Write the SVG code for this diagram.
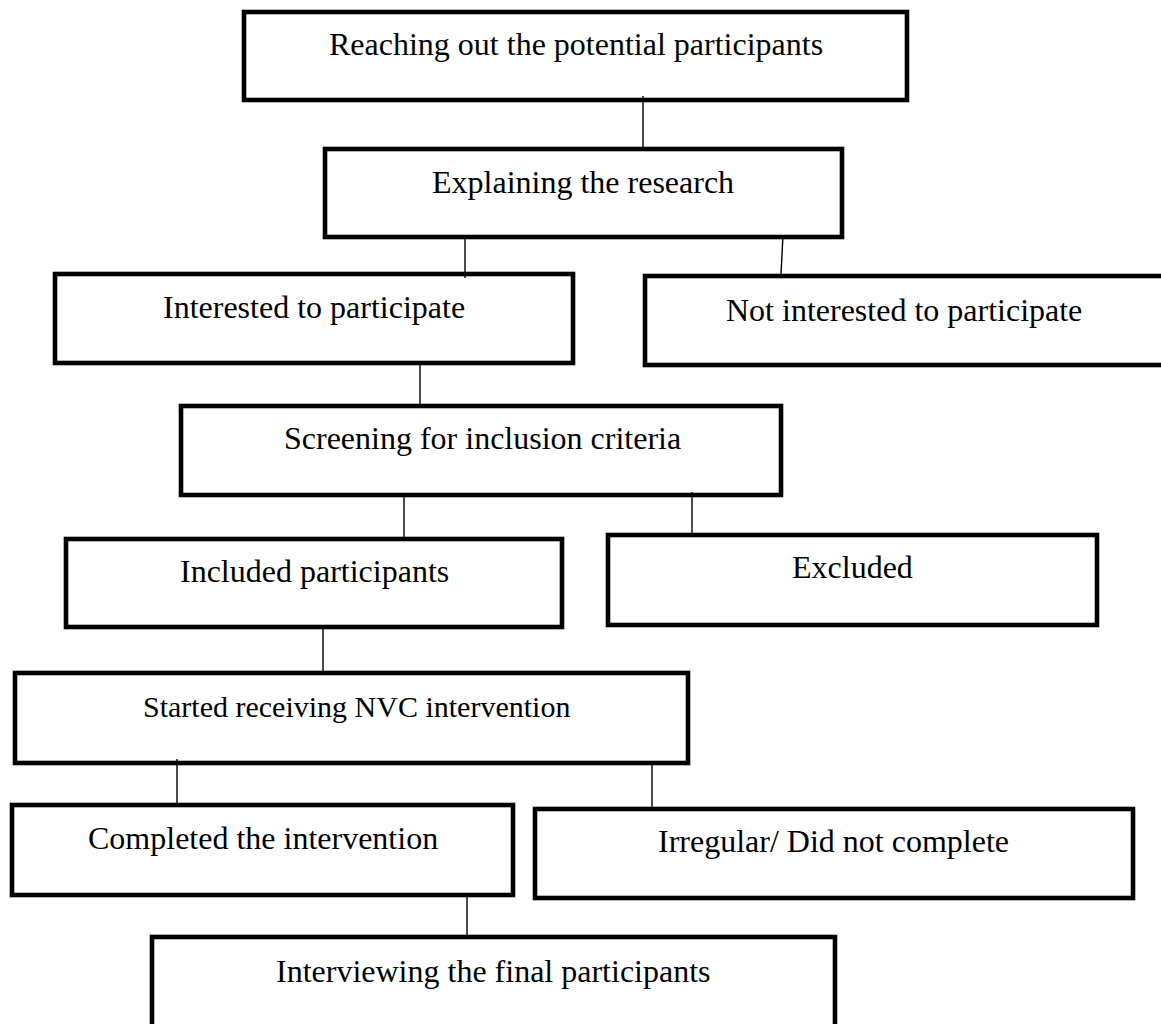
<svg xmlns="http://www.w3.org/2000/svg" width="1161" height="1024" viewBox="0 0 1161 1024">
<style>
.box{fill:#fff;stroke:#000;stroke-width:4.6}
.t{font-family:"Liberation Serif","Times New Roman",serif;font-size:32px;fill:#000}
.ts{font-size:30px}
.c{stroke:#000;stroke-width:1.4;fill:none}
</style>
<rect width="1161" height="1024" fill="#fff"/>
<g id="n1"><rect class="box" x="244" y="12" width="663" height="88"/><text class="t" x="329" y="55">Reaching out the potential participants</text></g>
<g id="n2"><rect class="box" x="325" y="149" width="517" height="88"/><text class="t" x="432" y="193">Explaining the research</text></g>
<g id="n3"><rect class="box" x="55" y="274" width="518" height="89"/><text class="t" x="163" y="318">Interested to participate</text></g>
<g id="n4"><rect class="box" x="645" y="276" width="530" height="89"/><text class="t" x="726" y="321">Not interested to participate</text></g>
<g id="n5"><rect class="box" x="181" y="406" width="600" height="89"/><text class="t" x="284" y="449">Screening for inclusion criteria</text></g>
<g id="n6"><rect class="box" x="66" y="539" width="496" height="88"/><text class="t" x="180" y="582">Included participants</text></g>
<g id="n7"><rect class="box" x="608" y="535" width="489" height="90"/><text class="t" x="792" y="578">Excluded</text></g>
<g id="n8"><rect class="box" x="15" y="673" width="673" height="90"/><text class="t ts" x="143" y="717">Started receiving NVC intervention</text></g>
<g id="n9"><rect class="box" x="12" y="805" width="501" height="90"/><text class="t" x="88" y="849">Completed the intervention</text></g>
<g id="n10"><rect class="box" x="535" y="809" width="598" height="89"/><text class="t" x="658" y="852">Irregular/ Did not complete</text></g>
<g id="n11"><rect class="box" x="152" y="937" width="683" height="120"/><text class="t" x="276" y="982">Interviewing the final participants</text></g>
<g id="connectors">
<line class="c" x1="643" y1="96" x2="643" y2="147"/>
<line class="c" x1="465" y1="235" x2="465" y2="278"/>
<line class="c" x1="783" y1="235" x2="781" y2="274"/>
<line class="c" x1="420" y1="365" x2="420" y2="408"/>
<line class="c" x1="404" y1="497" x2="404" y2="537"/>
<line class="c" x1="692" y1="492" x2="692" y2="533"/>
<line class="c" x1="323" y1="629" x2="323" y2="672"/>
<line class="c" x1="177" y1="759" x2="177" y2="803"/>
<line class="c" x1="652" y1="765" x2="652" y2="811"/>
<line class="c" x1="467" y1="897" x2="467" y2="935"/>
</g>
</svg>
